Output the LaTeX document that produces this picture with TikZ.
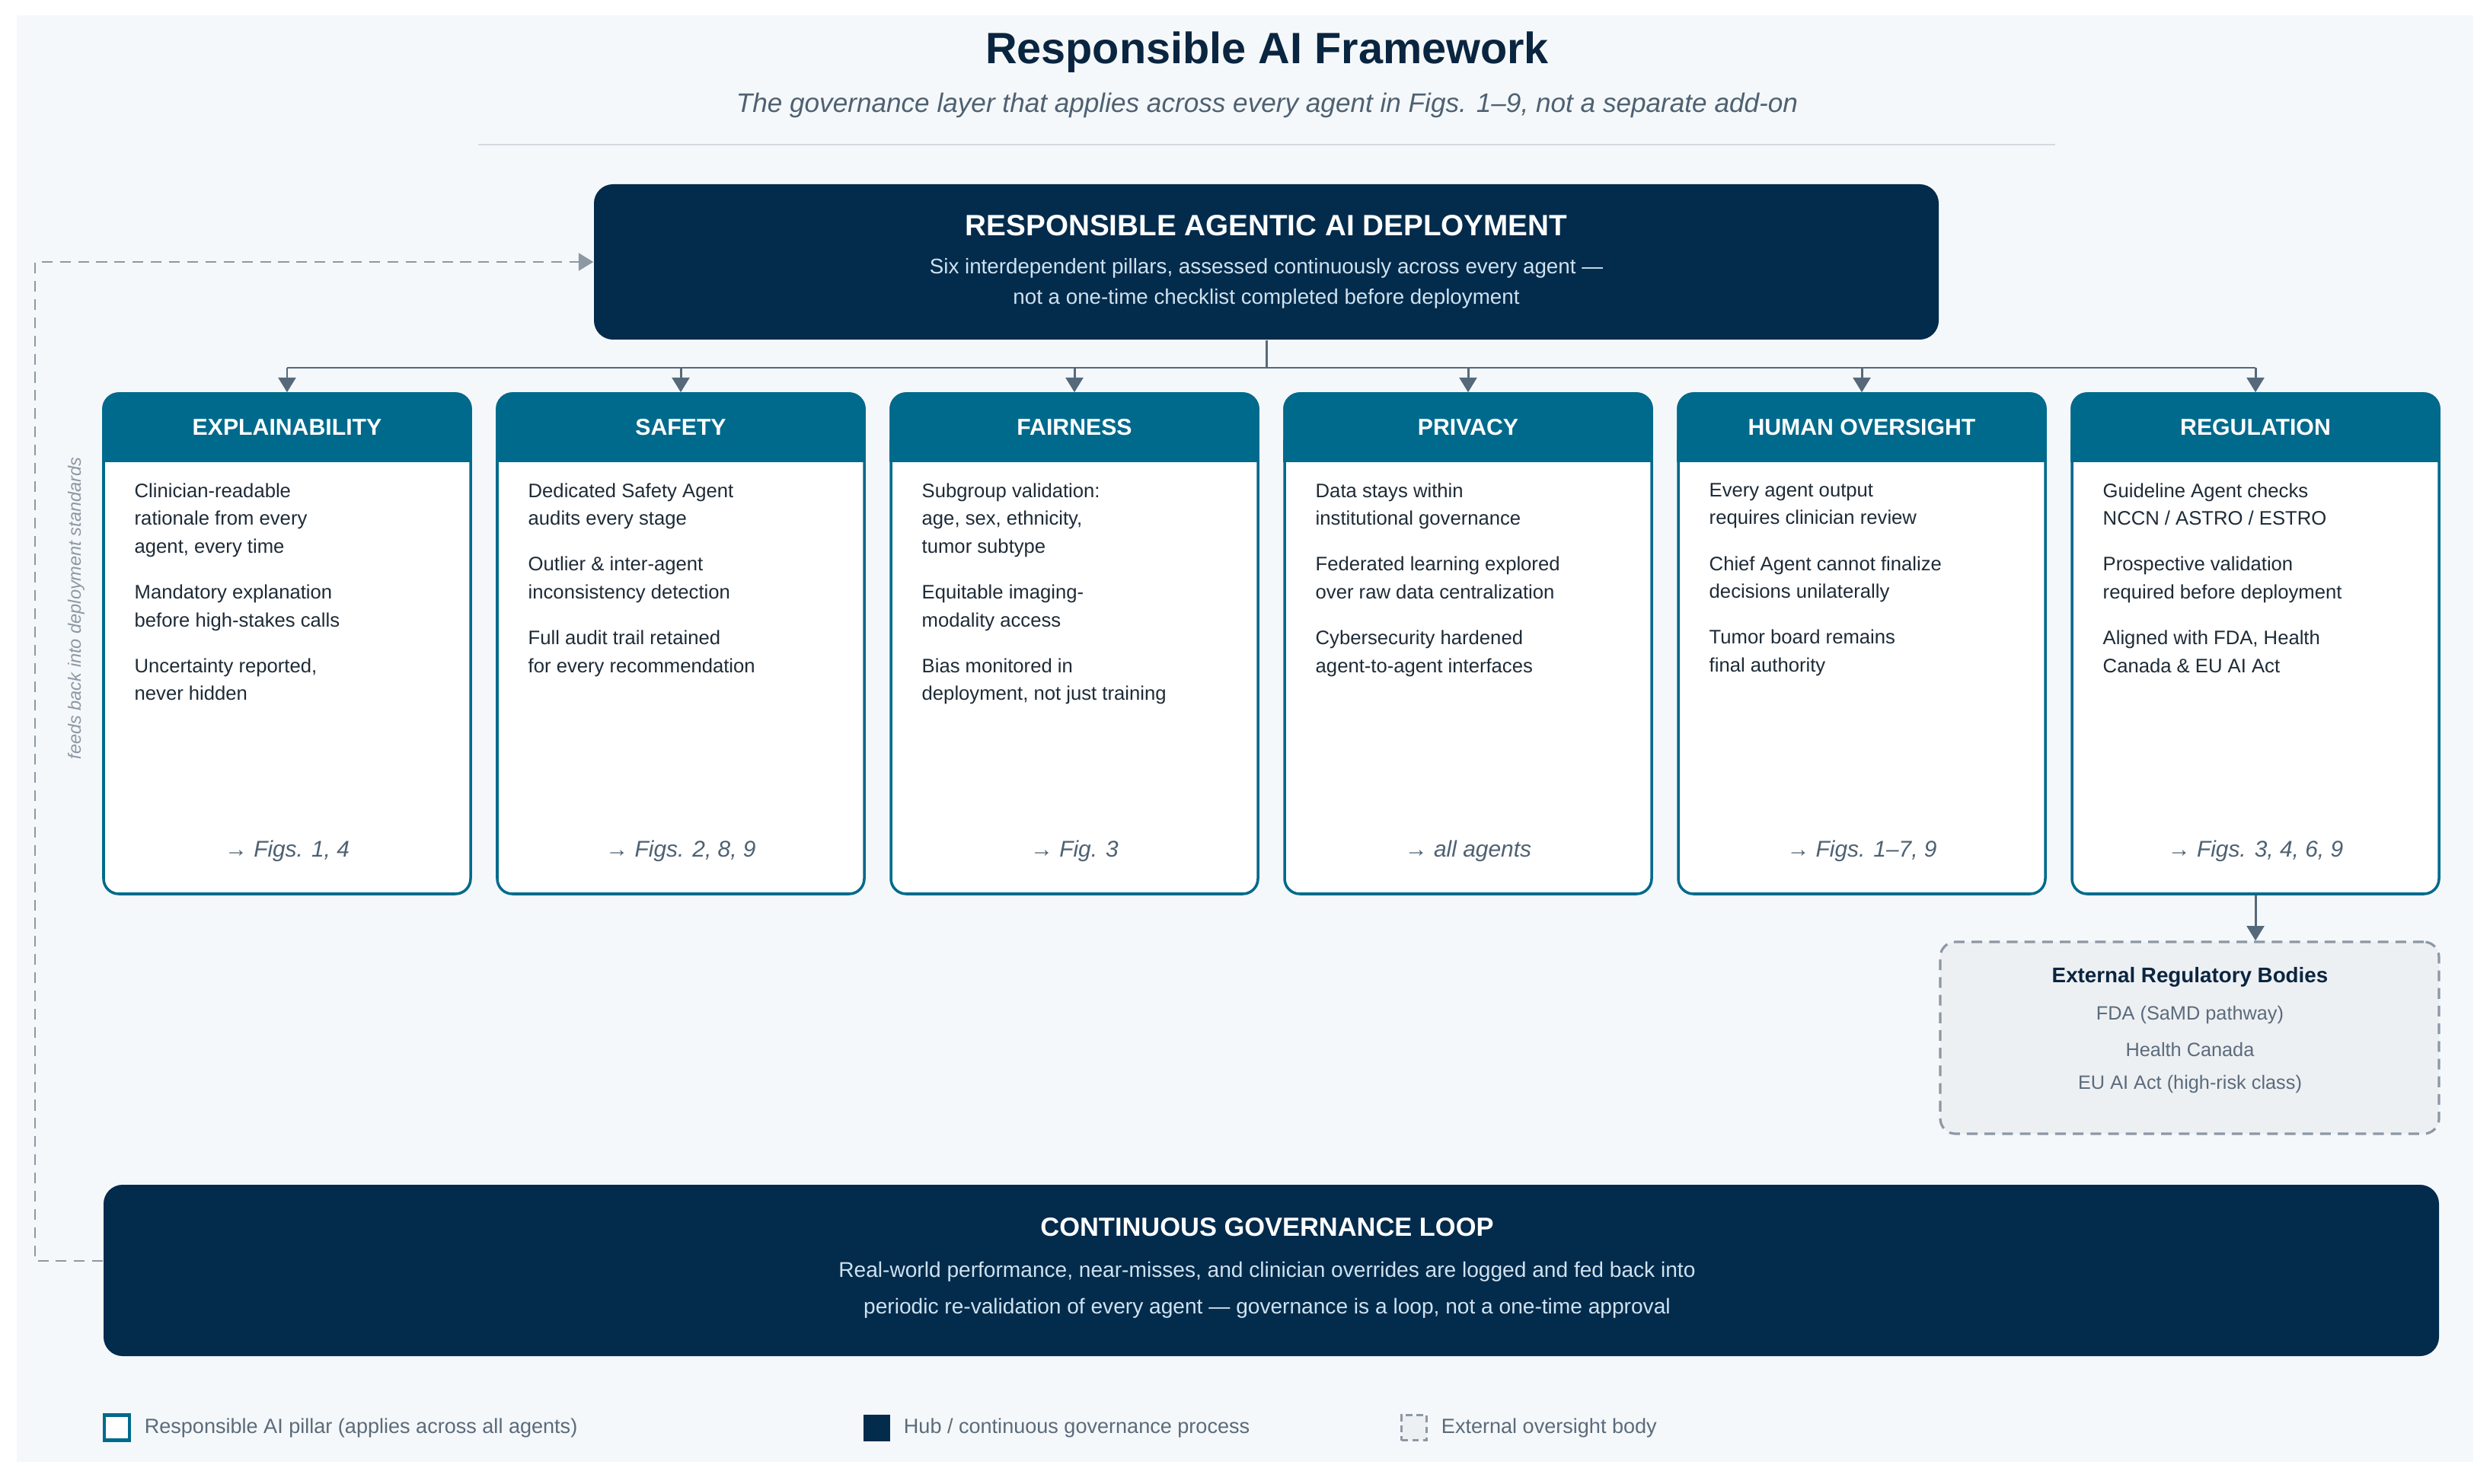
\documentclass[tikz,border=0pt]{standalone}
\usepackage{fontspec}
\setmainfont{Liberation Sans}
\usetikzlibrary{arrows.meta}
\usetikzlibrary{positioning}

\definecolor{hubnavy}{HTML}{022B4C}
\definecolor{pilteal}{HTML}{006A8C}
\definecolor{panelbg}{HTML}{F5F8FA}
\definecolor{connslate}{HTML}{56697B}
\definecolor{dashgray}{HTML}{8C98A4}
\definecolor{bodyink}{HTML}{1E2B37}
\definecolor{figgray}{HTML}{4E6172}
\definecolor{subblue}{HTML}{CFE2EF}
\definecolor{extfill}{HTML}{EDF0F3}
\definecolor{titleink}{HTML}{0A2540}
\definecolor{rulegray}{HTML}{D3DAE1}
\definecolor{legink}{HTML}{5B6B7B}

\tikzset{
  pillar/.style={draw=pilteal, fill=white, line width=1pt, rounded corners=0.2cm,
    minimum width=4.82cm, minimum height=6.57cm, inner sep=0pt},
  pillhead/.style={draw=pilteal, fill=pilteal, line width=1pt, rounded corners=0.2cm,
    minimum width=4.82cm, minimum height=0.88cm, anchor=north, inner sep=0pt,
    text=white, font=\bfseries\fontsize{8.6}{10}\selectfont},
  pilltext/.style={anchor=north west, align=left, inner sep=0pt, text=bodyink,
    font=\fontsize{7.3}{10.4}\selectfont},
  pillfig/.style={text=figgray, inner sep=0pt, font=\itshape\fontsize{8.5}{10}\selectfont},
  hubbox/.style={fill=hubnavy, rounded corners=0.25cm, inner sep=0pt},
  hubtitle/.style={text=white, inner sep=0pt, font=\bfseries\fontsize{11}{13}\selectfont},
  hubsub/.style={text=subblue, align=center, inner sep=0pt, font=\fontsize{7.9}{11.4}\selectfont},
  extbox/.style={draw=dashgray, fill=extfill, line width=0.9pt, dash pattern=on 4pt off 2.6pt,
    rounded corners=0.2cm, inner sep=0pt},
  conn/.style={draw=connslate, line width=0.85pt},
  arrowed/.style={-{Triangle[width=6.5pt,length=5.5pt]}},
  fbline/.style={draw=dashgray, line width=0.75pt, dash pattern=on 4pt off 2.8pt},
  legtext/.style={text=legink, inner sep=0pt, anchor=west, font=\fontsize{7.7}{9}\selectfont},
}

\begin{document}
\begin{tikzpicture}

\useasboundingbox (0,0) rectangle (32.70,-19.49);
\fill[white] (0,0) rectangle (32.70,-19.49);
\fill[panelbg] (0.22,-0.20) rectangle (32.48,-19.20);

% heading
\node[text=titleink, font=\bfseries\fontsize{16.4}{19}\selectfont] at (16.64, -0.69) (title) {Responsible AI Framework};
\node[text=figgray, font=\itshape\fontsize{10}{12}\selectfont] at (16.64, -1.38) (subtitle) {The governance layer that applies across every agent in Figs. 1–9, not a separate add-on};
\draw[rulegray, line width=0.8pt] (6.28, -1.90) -- (26.99, -1.90);

% hub
\node[hubbox, minimum width=17.66cm, minimum height=2.04cm] at (16.63, -3.44) (hub) {};
\node[hubtitle] at (16.63, -2.96) (hubt) {RESPONSIBLE AGENTIC AI DEPLOYMENT};
\node[hubsub] at (16.63, -3.72) (hubs) {Six interdependent pillars, assessed continuously across every agent —\\not a one-time checklist completed before deployment};

% pillars
\node[pillar] at (3.77, -8.455) (p1) {};
\node[pillar] at (8.94, -8.455) (p2) {};
\node[pillar] at (14.11, -8.455) (p3) {};
\node[pillar] at (19.28, -8.455) (p4) {};
\node[pillar] at (24.45, -8.455) (p5) {};
\node[pillar] at (29.62, -8.455) (p6) {};

\node[pillhead] at (p1.north) (h1) {EXPLAINABILITY};
\node[pillhead] at (p2.north) (h2) {SAFETY};
\node[pillhead] at (p3.north) (h3) {FAIRNESS};
\node[pillhead] at (p4.north) (h4) {PRIVACY};
\node[pillhead] at (p5.north) (h5) {HUMAN OVERSIGHT};
\node[pillhead] at (p6.north) (h6) {REGULATION};

\fill[pilteal] ([yshift=0.3cm]h1.south west) rectangle (h1.south east);
\fill[pilteal] ([yshift=0.3cm]h2.south west) rectangle (h2.south east);
\fill[pilteal] ([yshift=0.3cm]h3.south west) rectangle (h3.south east);
\fill[pilteal] ([yshift=0.3cm]h4.south west) rectangle (h4.south east);
\fill[pilteal] ([yshift=0.3cm]h5.south west) rectangle (h5.south east);
\fill[pilteal] ([yshift=0.3cm]h6.south west) rectangle (h6.south east);

\node[pilltext] at (1.76, -6.34) (t1) {Clinician-readable\\rationale from every\\agent, every time\\[6.7pt]Mandatory explanation\\before high-stakes calls\\[6.7pt]Uncertainty reported,\\never hidden};
\node[pilltext] at (6.93, -6.34) (t2) {Dedicated Safety Agent\\audits every stage\\[6.7pt]Outlier \& inter-agent\\inconsistency detection\\[6.7pt]Full audit trail retained\\for every recommendation};
\node[pilltext] at (12.10, -6.34) (t3) {Subgroup validation:\\age, sex, ethnicity,\\tumor subtype\\[6.7pt]Equitable imaging-\\modality access\\[6.7pt]Bias monitored in\\deployment, not just training};
\node[pilltext] at (17.27, -6.34) (t4) {Data stays within\\institutional governance\\[6.7pt]Federated learning explored\\over raw data centralization\\[6.7pt]Cybersecurity hardened\\agent-to-agent interfaces};
\node[pilltext] at (22.44, -6.34) (t5) {Every agent output\\requires clinician review\\[6.7pt]Chief Agent cannot finalize\\decisions unilaterally\\[6.7pt]Tumor board remains\\final authority};
\node[pilltext] at (27.61, -6.34) (t6) {Guideline Agent checks\\NCCN / ASTRO / ESTRO\\[6.7pt]Prospective validation\\required before deployment\\[6.7pt]Aligned with FDA, Health\\Canada \& EU AI Act};

\node[pillfig] at (3.77, -11.18) (f1) {→ Figs. 1, 4};
\node[pillfig] at (8.94, -11.18) (f2) {→ Figs. 2, 8, 9};
\node[pillfig] at (14.11, -11.18) (f3) {→ Fig. 3};
\node[pillfig] at (19.28, -11.18) (f4) {→ all agents};
\node[pillfig] at (24.45, -11.18) (f5) {→ Figs. 1–7, 9};
\node[pillfig] at (29.62, -11.18) (f6) {→ Figs. 3, 4, 6, 9};

% hub to pillars
\coordinate (bus) at (16.63, -4.83);
\draw[conn] (hub.south) -- (bus);
\draw[conn] (p1.north |- bus) -- (p6.north |- bus);
\draw[conn, arrowed] (p1.north |- bus) -- (p1.north);
\draw[conn, arrowed] (p2.north |- bus) -- (p2.north);
\draw[conn, arrowed] (p3.north |- bus) -- (p3.north);
\draw[conn, arrowed] (p4.north |- bus) -- (p4.north);
\draw[conn, arrowed] (p5.north |- bus) -- (p5.north);
\draw[conn, arrowed] (p6.north |- bus) -- (p6.north);

% external bodies
\node[extbox, minimum width=6.55cm, minimum height=2.52cm] at (28.755, -13.63) (ext) {};
\node[text=titleink, font=\bfseries\fontsize{7.9}{9}\selectfont] at (28.76, -12.83) (extt) {External Regulatory Bodies};
\node[text=legink, font=\fontsize{7.2}{9}\selectfont] at (28.76, -13.33) (ext1) {FDA (SaMD pathway)};
\node[text=legink, font=\fontsize{7.2}{9}\selectfont] at (28.76, -13.78) (ext2) {Health Canada};
\node[text=legink, font=\fontsize{7.2}{9}\selectfont] at (28.76, -14.24) (ext3) {EU AI Act (high-risk class)};
\draw[conn, arrowed] (p6.south) -- (p6.south |- ext.north);

% governance loop
\node[hubbox, minimum width=30.67cm, minimum height=2.25cm] at (16.695, -16.685) (loop) {};
\node[hubtitle, font=\bfseries\fontsize{9.8}{12}\selectfont] at (16.64, -16.12) (loopt) {CONTINUOUS GOVERNANCE LOOP};
\node[hubsub, font=\fontsize{8}{13.7}\selectfont] at (16.64, -16.94) (loops) {Real-world performance, near-misses, and clinician overrides are logged and fed back into\\periodic re-validation of every agent — governance is a loop, not a one-time approval};

% feedback
\coordinate (fbturn) at (0.46, -16.56);
\draw[fbline, arrowed] (loop.west |- fbturn) -- (fbturn) |- (hub.west);
\node[text=dashgray, rotate=90, font=\itshape\fontsize{6.7}{8}\selectfont] at (1.00, -7.99) (fbnote) {feeds back into deployment standards};

% legend
\node[draw=pilteal, fill=white, line width=1.2pt, minimum size=0.33cm, inner sep=0pt] at (1.535, -18.75) (l1) {};
\node[legtext, right=0.17cm of l1] (lt1) {Responsible AI pillar (applies across all agents)};
\node[fill=hubnavy, minimum size=0.35cm, inner sep=0pt] at (11.51, -18.75) (l2) {};
\node[legtext, right=0.17cm of l2] (lt2) {Hub / continuous governance process};
\node[draw=dashgray, fill=extfill, line width=1pt, dash pattern=on 2.5pt off 1.5pt, minimum size=0.33cm, inner sep=0pt] at (18.57, -18.75) (l3) {};
\node[legtext, right=0.17cm of l3] (lt3) {External oversight body};

\end{tikzpicture}
\end{document}
